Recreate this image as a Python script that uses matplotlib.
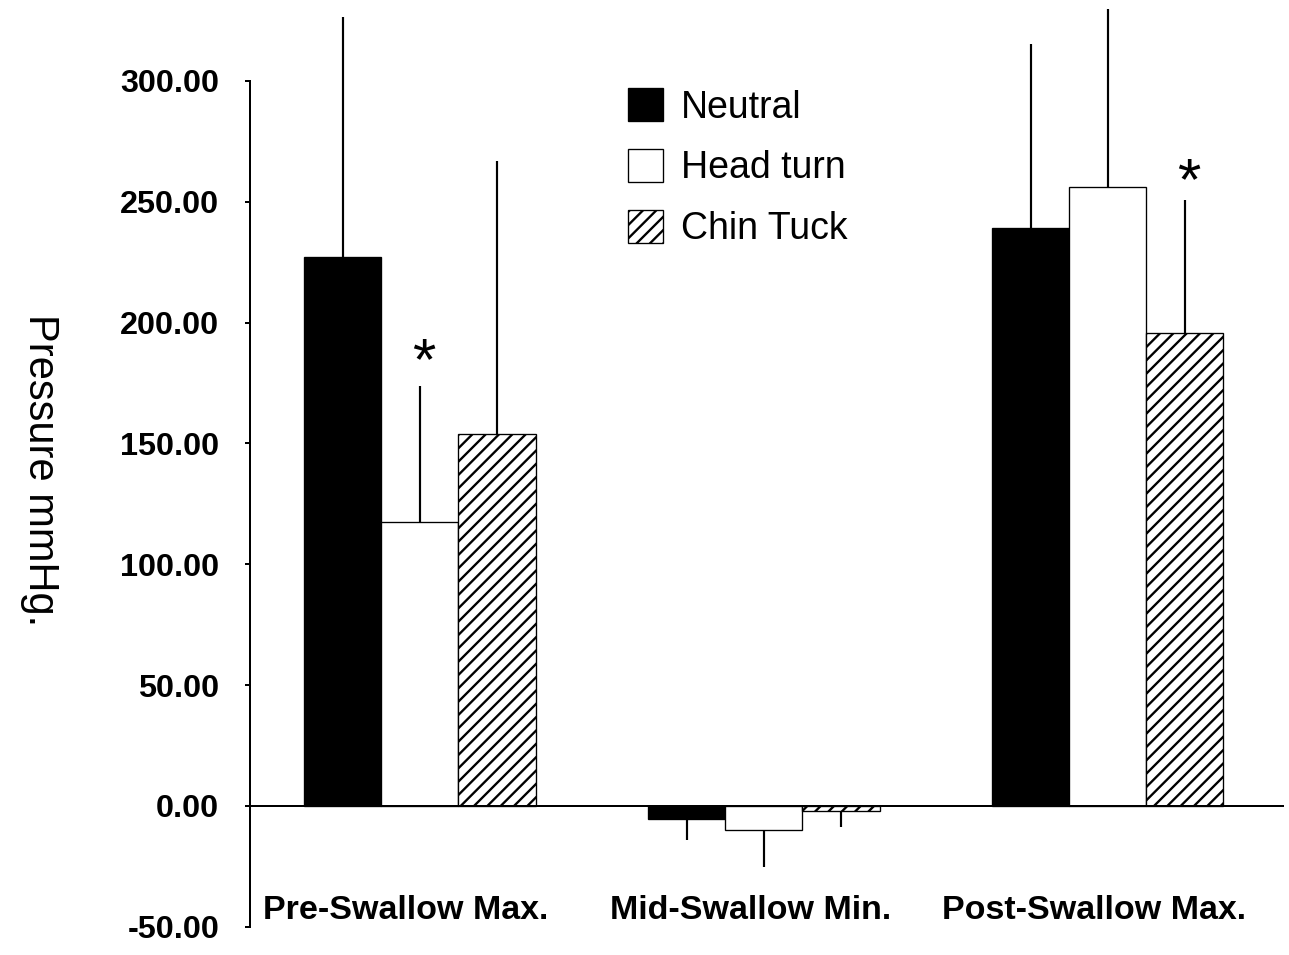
import matplotlib
matplotlib.use('Agg')
import matplotlib.pyplot as plt
import numpy as np
from matplotlib.patches import Patch

# ---------------- data ----------------
categories = ['Pre-Swallow Max.', 'Mid-Swallow Min.', 'Post-Swallow Max.']
series_names = ['Neutral', 'Head turn', 'Chin Tuck']
neutral = [227.2, -5.4, 239.0]
head_turn = [117.6, -9.9, 256.3]
chin_tuck = [154.0, -2.0, 195.6]
neutral_err = [99.3, 8.7, 76.3]
head_turn_err = [56.2, 15.2, 73.3]
chin_tuck_err = [112.9, 6.6, 55.2]
yticks = [-50, 0, 50, 100, 150, 200, 250, 300]
# significance markers: (category index, series index, label y)
stars = [(0, 1, 176.5), (2, 2, 251.2)]

# ---------------- style ----------------
plt.rcParams['font.family'] = ['Liberation Sans', 'DejaVu Sans']
plt.rcParams['hatch.linewidth'] = 1.4
plt.rcParams['hatch.color'] = 'black'

DPI = 120
W, H = 1289, 955
fig = plt.figure(figsize=(W / DPI, H / DPI), dpi=DPI)

ymin, ymax = -50, 333
px_per_unit = 2.4167
ax_h = (ymax - ymin) * px_per_unit
ax_bottom = H - 926.8
ax = fig.add_axes([250 / W, ax_bottom / H, 1033 / W, ax_h / H])

x = np.arange(len(categories))
bw = 0.224
offsets = [-bw, 0, bw]
means = [neutral, head_turn, chin_tuck]
errs = [neutral_err, head_turn_err, chin_tuck_err]
faces = ['black', 'white', 'white']
hatches = [None, None, '///']

for i in range(3):
    m = np.array(means[i])
    e = np.array(errs[i])
    ax.bar(x + offsets[i], m, width=bw, color=faces[i], edgecolor='black',
           linewidth=0.8, hatch=hatches[i], zorder=2)
    lower = np.where(m < 0, e, 0)
    upper = np.where(m >= 0, e, 0)
    ax.errorbar(x + offsets[i], m, yerr=[lower, upper], fmt='none',
                ecolor='black', elinewidth=1.3, capsize=0, zorder=1)

for ci, si, yv in stars:
    ax.text(x[ci] + offsets[si] + 0.01, yv, '*', ha='center', va='baseline',
            fontsize=36)

ax.set_xlim(-0.494, 2.509)
ax.set_ylim(ymin, ymax)
ax.set_xticks([])
ax.set_yticks(yticks)
ax.set_yticklabels([f'{v:.2f}' for v in yticks], fontweight='bold', fontsize=19.4)
ax.tick_params(axis='y', direction='out', length=3, width=1.2, pad=15.4)

for s in ['top', 'right']:
    ax.spines[s].set_visible(False)
ax.spines['left'].set_bounds(-50, 300)
ax.spines['left'].set_linewidth(1.2)
ax.spines['bottom'].set_position(('data', 0))
ax.spines['bottom'].set_linewidth(1.2)
ax.patch.set_visible(False)

for i, c in enumerate(categories):
    ax.text(x[i] - 0.04, -43.3, c, ha='center', va='center',
            fontweight='bold', fontsize=20.4)

fig.text(40 / W, 1 - 470 / H, 'Pressure mmHg.', rotation=270,
         ha='center', va='center', fontsize=25)

handles = [Patch(facecolor=faces[i], edgecolor='black', hatch=hatches[i],
                 linewidth=0.8) for i in range(3)]
fig.legend(handles, series_names, loc='upper left',
           bbox_to_anchor=(628 / W, 1 - 88 / H), frameon=False,
           fontsize=22.5, handlelength=0.93, handleheight=0.99,
           handletextpad=0.48, labelspacing=0.62, borderpad=0,
           borderaxespad=0)

fig.savefig('out.png', dpi=DPI)
